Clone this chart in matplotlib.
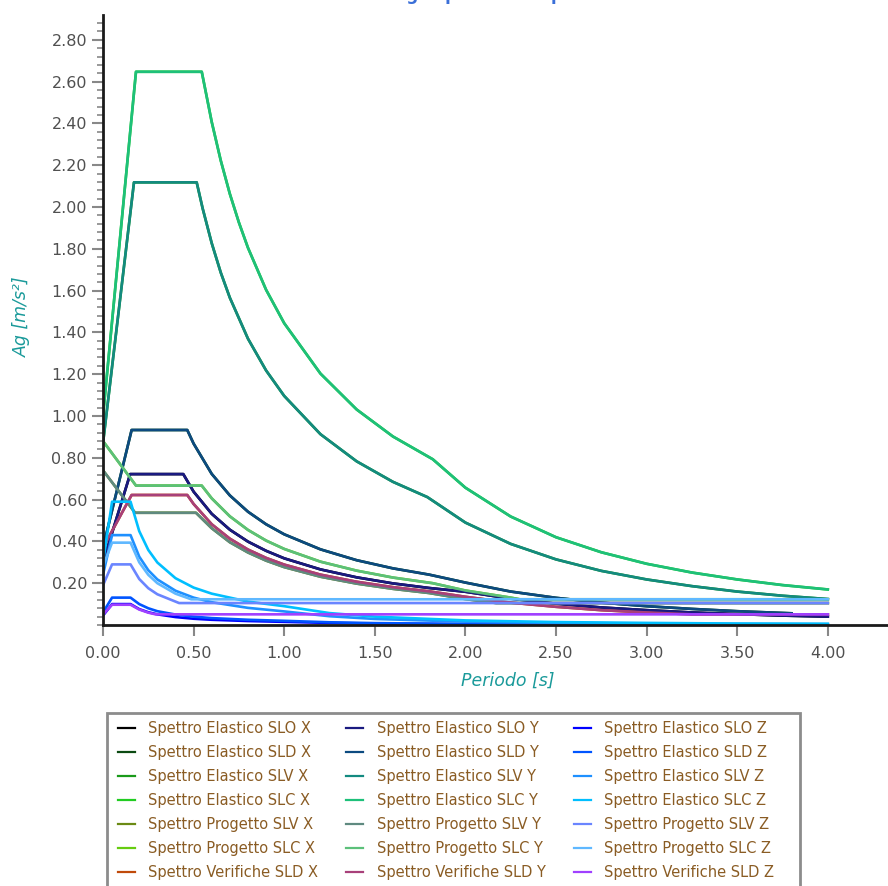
import matplotlib
matplotlib.use('Agg')
import numpy as np
import matplotlib.pyplot as plt
from matplotlib.patches import Rectangle
from matplotlib.ticker import MultipleLocator, FormatStrFormatter

# Spettri orizzontali (Y) - periodo [s] e accelerazione [m/s2]
T_slo_y = [0, 0.15, 0.443, 0.5, 0.6, 0.7, 0.8, 0.9, 1.0, 1.2, 1.4, 1.6, 1.8, 2.0, 2.25, 2.5, 2.75, 3.0, 3.25, 3.5, 3.75, 4.0]
A_slo_y = [0.30, 0.722, 0.722, 0.638, 0.532, 0.456, 0.399, 0.355, 0.319, 0.266, 0.228, 0.199, 0.177, 0.159, 0.126, 0.102, 0.084, 0.071, 0.060, 0.052, 0.045, 0.040]

T_sld_y = [0, 0.158, 0.465, 0.5, 0.6, 0.7, 0.8, 0.9, 1.0, 1.2, 1.4, 1.6, 1.8, 2.0, 2.25, 2.5, 2.75, 3.0, 3.25, 3.5, 3.8]
A_sld_y = [0.37, 0.933, 0.933, 0.868, 0.723, 0.620, 0.542, 0.482, 0.434, 0.362, 0.310, 0.271, 0.241, 0.203, 0.160, 0.130, 0.107, 0.090, 0.077, 0.066, 0.056]

T_slv_y = [0, 0.171, 0.517, 0.55, 0.6, 0.65, 0.7, 0.8, 0.9, 1.0, 1.2, 1.4, 1.6, 1.79, 2.0, 2.25, 2.5, 2.75, 3.0, 3.25, 3.5, 3.75, 4.0]
A_slv_y = [0.87, 2.118, 2.118, 1.993, 1.827, 1.686, 1.566, 1.370, 1.218, 1.096, 0.913, 0.783, 0.685, 0.612, 0.490, 0.388, 0.314, 0.259, 0.218, 0.186, 0.160, 0.140, 0.124]

T_slc_y = [0, 0.182, 0.545, 0.6, 0.65, 0.7, 0.75, 0.8, 0.9, 1.0, 1.2, 1.4, 1.6, 1.82, 2.0, 2.25, 2.5, 2.75, 3.0, 3.25, 3.5, 3.75, 4.0]
A_slc_y = [1.00, 2.647, 2.647, 2.407, 2.222, 2.063, 1.926, 1.805, 1.604, 1.444, 1.203, 1.031, 0.902, 0.793, 0.657, 0.519, 0.420, 0.348, 0.293, 0.251, 0.218, 0.191, 0.170]

T_prog_slv_y = [0, 0.177, 0.513, 0.6, 0.7, 0.8, 0.9, 1.0, 1.2, 1.4, 1.6, 1.8, 2.0, 2.17, 4.0]
A_prog_slv_y = [0.74, 0.537, 0.537, 0.463, 0.396, 0.347, 0.308, 0.277, 0.231, 0.198, 0.173, 0.153, 0.124, 0.105, 0.105]

T_prog_slc_y = [0, 0.182, 0.545, 0.6, 0.7, 0.8, 0.9, 1.0, 1.2, 1.4, 1.6, 1.82, 2.0, 2.25, 2.3, 4.0]
A_prog_slc_y = [0.88, 0.667, 0.667, 0.606, 0.520, 0.455, 0.404, 0.364, 0.303, 0.260, 0.227, 0.200, 0.165, 0.131, 0.123, 0.123]

T_ver_sld_y = [0, 0.158, 0.465, 0.5, 0.6, 0.7, 0.8, 0.9, 1.0, 1.2, 1.4, 1.6, 1.8, 2.0, 2.25, 2.5, 2.75, 3.0, 3.25, 4.0]
A_ver_sld_y = [0.37, 0.622, 0.622, 0.579, 0.482, 0.413, 0.361, 0.321, 0.289, 0.241, 0.207, 0.181, 0.161, 0.135, 0.107, 0.087, 0.071, 0.060, 0.051, 0.051]

# Spettri verticali (Z)
T_z = [0, 0.05, 0.152, 0.2, 0.25, 0.3, 0.4, 0.5, 0.6, 0.8, 1.0, 1.25, 1.5, 2.0, 2.5, 3.0, 3.5, 4.0]
A_slo_z = [0.045, 0.10, 0.10, 0.076, 0.061, 0.051, 0.038, 0.030, 0.025, 0.019, 0.015, 0.010, 0.007, 0.004, 0.002, 0.002, 0.001, 0.001]
A_sld_z = [0.06, 0.131, 0.131, 0.100, 0.080, 0.066, 0.050, 0.040, 0.033, 0.025, 0.020, 0.013, 0.009, 0.005, 0.003, 0.002, 0.002, 0.001]
A_slv_z = [0.24, 0.43, 0.43, 0.327, 0.262, 0.218, 0.164, 0.131, 0.109, 0.082, 0.065, 0.042, 0.029, 0.016, 0.010, 0.007, 0.005, 0.004]
A_slc_z = [0.30, 0.59, 0.59, 0.449, 0.359, 0.299, 0.224, 0.179, 0.150, 0.112, 0.090, 0.057, 0.040, 0.022, 0.014, 0.010, 0.007, 0.006]

T_prog_slv_z = [0, 0.05, 0.152, 0.2, 0.25, 0.3, 0.42, 4.0]
A_prog_slv_z = [0.19, 0.29, 0.29, 0.220, 0.176, 0.147, 0.105, 0.105]
T_prog_slc_z = [0, 0.05, 0.152, 0.2, 0.25, 0.3, 0.4, 0.487, 4.0]
A_prog_slc_z = [0.28, 0.394, 0.394, 0.300, 0.240, 0.200, 0.150, 0.123, 0.123]
T_ver_sld_z = [0, 0.05, 0.152, 0.2, 0.25, 0.29, 4.0]
A_ver_sld_z = [0.05, 0.097, 0.097, 0.074, 0.059, 0.051, 0.051]

# X coincide con Y (curve sovrapposte)
series = [
    ('Spettro Elastico SLO X', T_slo_y, A_slo_y, '#000000'),
    ('Spettro Elastico SLD X', T_sld_y, A_sld_y, '#0b4a12'),
    ('Spettro Elastico SLV X', T_slv_y, A_slv_y, '#1a9a1a'),
    ('Spettro Elastico SLC X', T_slc_y, A_slc_y, '#22cc22'),
    ('Spettro Progetto SLV X', T_prog_slv_y, A_prog_slv_y, '#6b8a14'),
    ('Spettro Progetto SLC X', T_prog_slc_y, A_prog_slc_y, '#66cc10'),
    ('Spettro Verifiche SLD X', T_ver_sld_y, A_ver_sld_y, '#c04a0a'),
    ('Spettro Elastico SLO Y', T_slo_y, A_slo_y, '#1a1a80'),
    ('Spettro Elastico SLD Y', T_sld_y, A_sld_y, '#0c4a80'),
    ('Spettro Elastico SLV Y', T_slv_y, A_slv_y, '#138a80'),
    ('Spettro Elastico SLC Y', T_slc_y, A_slc_y, '#1ec07a'),
    ('Spettro Progetto SLV Y', T_prog_slv_y, A_prog_slv_y, '#5f8a80'),
    ('Spettro Progetto SLC Y', T_prog_slc_y, A_prog_slc_y, '#5cc07a'),
    ('Spettro Verifiche SLD Y', T_ver_sld_y, A_ver_sld_y, '#a8407a'),
    ('Spettro Elastico SLO Z', T_z, A_slo_z, '#0000ff'),
    ('Spettro Elastico SLD Z', T_z, A_sld_z, '#0055ff'),
    ('Spettro Elastico SLV Z', T_z, A_slv_z, '#1e90ff'),
    ('Spettro Elastico SLC Z', T_z, A_slc_z, '#00bfff'),
    ('Spettro Progetto SLV Z', T_prog_slv_z, A_prog_slv_z, '#6a85ff'),
    ('Spettro Progetto SLC Z', T_prog_slc_z, A_prog_slc_z, '#5fb8ff'),
    ('Spettro Verifiche SLD Z', T_ver_sld_z, A_ver_sld_z, '#a040ff'),
]

fig = plt.figure(figsize=(8.88, 8.86), dpi=100)
ax = fig.add_axes([103/888, 261/886, 785/888, 610/886])

for label, T, A, color in series:
    ax.plot(T, A, color=color, lw=1.9, label=label)

ax.set_xlim(0, 785/181.2)
ax.set_ylim(0, 610/209)

ax.xaxis.set_major_locator(MultipleLocator(0.5))
ax.xaxis.set_major_formatter(FormatStrFormatter('%.2f'))
ax.set_yticks(np.arange(0.2, 2.81, 0.2))
ax.yaxis.set_major_formatter(FormatStrFormatter('%.2f'))
ax.yaxis.set_minor_locator(MultipleLocator(0.04))

for s in ['top', 'right']:
    ax.spines[s].set_visible(False)
for s in ['left', 'bottom']:
    ax.spines[s].set_linewidth(2)
    ax.spines[s].set_color('#1a1a1a')

ax.tick_params(axis='both', which='major', color='#888888', labelcolor='#505050',
               labelsize=11.5, length=8, width=1.5)
ax.tick_params(axis='x', which='major', pad=7)
ax.tick_params(axis='y', which='minor', color='#888888', length=4, width=1.2)

ax.set_xlabel('Periodo [s]', color='#1a9a9a', style='italic', fontsize=12.5)
ax.xaxis.set_label_coords(0.515, -0.077)
ax.set_ylabel('Ag [m/s²]', color='#1a9a9a', style='italic', fontsize=12.5)
ax.yaxis.set_label_coords(-0.092, 0.505)

fig.text(457/888, 1.0 + 0.5/886, 'Grafico degli spettri di risposta', color='#3a6fd8',
         fontweight='bold', fontsize=12, ha='center', va='baseline')

leg = fig.legend(loc='upper left', bbox_to_anchor=(118/888, 1 - 721/886),
                 ncol=3, fontsize=10.5, labelcolor='#8a5c24', frameon=False,
                 handlelength=1.16, handletextpad=0.9, labelspacing=0.62,
                 columnspacing=1.95, borderpad=0, borderaxespad=0)
for ln in leg.get_lines():
    ln.set_linewidth(1.6)

fig.add_artist(Rectangle((107/888, -0.05), 693/888, (886 - 713)/886 + 0.05,
                         transform=fig.transFigure, fill=False,
                         edgecolor='#8c8c8c', linewidth=2))

plt.savefig('out.png', dpi=100)
